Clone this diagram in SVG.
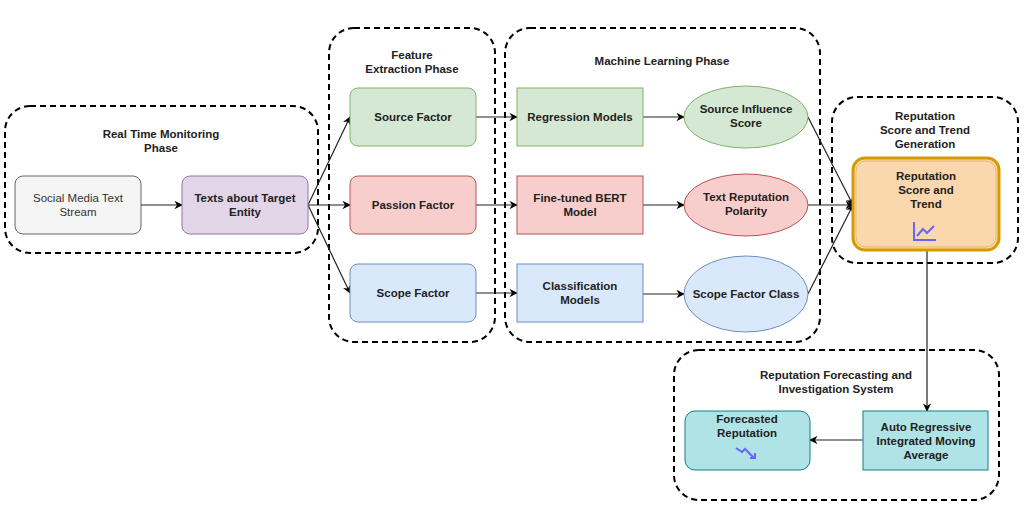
<svg xmlns="http://www.w3.org/2000/svg" width="1024" height="509" viewBox="0 0 1024 509">
<defs>
<marker id="ar" viewBox="0 0 10 10" refX="9" refY="5" markerWidth="7" markerHeight="7" orient="auto"><path d="M0,0 L10,5 L0,10 L3,5 z" fill="#000"/></marker>
<style>
text{font-family:"Liberation Sans",Arial,sans-serif;font-size:11.5px;font-weight:bold;text-anchor:middle;fill:#222}
.grp{fill:none;stroke:#000;stroke-width:2;stroke-dasharray:6 4}
.c{fill:none;stroke:#222;stroke-width:1.2;marker-end:url(#ar)}
</style>
</defs>
<rect width="1024" height="509" fill="#fff"/>
<g id="containers">
<rect class="grp" x="5" y="106" width="313" height="147" rx="25"/>
<rect class="grp" x="329" y="28" width="166" height="314" rx="25"/>
<rect class="grp" x="505" y="28" width="315" height="314" rx="25"/>
<rect class="grp" x="832" y="97" width="186" height="166" rx="25"/>
<rect class="grp" x="674" y="350" width="325" height="150" rx="25"/>
<text x="161" y="138">Real Time Monitoring</text><text x="161" y="152">Phase</text>
<text x="412" y="59">Feature</text><text x="412" y="73">Extraction Phase</text>
<text x="662" y="65">Machine Learning Phase</text>
<text x="925" y="120">Reputation</text><text x="925" y="134">Score and Trend</text><text x="925" y="148">Generation</text>
<text x="836" y="379">Reputation Forecasting and</text><text x="836" y="393">Investigation System</text>
</g>
<g id="connectors">
<line class="c" x1="141" y1="205" x2="182" y2="205"/>
<line class="c" x1="308" y1="205" x2="350" y2="117"/>
<line class="c" x1="308" y1="205" x2="350" y2="205"/>
<line class="c" x1="308" y1="205" x2="350" y2="293"/>
<line class="c" x1="476" y1="117" x2="517" y2="117"/>
<line class="c" x1="476" y1="205" x2="517" y2="205"/>
<line class="c" x1="476" y1="293" x2="517" y2="293"/>
<line class="c" x1="643" y1="117" x2="684" y2="117"/>
<line class="c" x1="643" y1="205" x2="684" y2="205"/>
<line class="c" x1="643" y1="294" x2="684" y2="294"/>
<line class="c" x1="808" y1="117" x2="853" y2="205"/>
<line class="c" x1="808" y1="205" x2="853" y2="205"/>
<line class="c" x1="808" y1="294" x2="853" y2="205"/>
<line class="c" x1="927" y1="250" x2="927" y2="411"/>
<line class="c" x1="863" y1="440" x2="810" y2="440"/>
</g>
<g id="social"><rect x="15" y="176" width="126" height="58" rx="8" fill="#f5f5f5" stroke="#666"/><text x="78" y="202" style="fill:#333;font-weight:normal">Social Media Text</text><text x="78" y="216" style="fill:#333;font-weight:normal">Stream</text></g>
<g id="texts"><rect x="182" y="176" width="126" height="58" rx="8" fill="#e1d5e7" stroke="#9673a6"/><text x="245" y="202">Texts about Target</text><text x="245" y="216">Entity</text></g>
<g id="source"><rect x="350" y="88" width="126" height="58" rx="8" fill="#d5e8d4" stroke="#82b366"/><text x="413" y="121">Source Factor</text></g>
<g id="passion"><rect x="350" y="176" width="126" height="58" rx="8" fill="#f8cecc" stroke="#b85450"/><text x="413" y="209">Passion Factor</text></g>
<g id="scope"><rect x="350" y="264" width="126" height="58" rx="8" fill="#dae8fc" stroke="#6c8ebf"/><text x="413" y="297">Scope Factor</text></g>
<g id="regression"><rect x="517" y="88" width="126" height="58" fill="#d5e8d4" stroke="#82b366"/><text x="580" y="121">Regression Models</text></g>
<g id="bert"><rect x="517" y="176" width="126" height="58" fill="#f8cecc" stroke="#b85450"/><text x="580" y="202">Fine-tuned BERT</text><text x="580" y="216">Model</text></g>
<g id="classif"><rect x="517" y="264" width="126" height="58" fill="#dae8fc" stroke="#6c8ebf"/><text x="580" y="290">Classification</text><text x="580" y="304">Models</text></g>
<g id="sis"><ellipse cx="746" cy="117" rx="62" ry="31" fill="#d5e8d4" stroke="#82b366"/><text x="746" y="113">Source Influence</text><text x="746" y="127">Score</text></g>
<g id="trp"><ellipse cx="746" cy="205" rx="62" ry="31" fill="#f8cecc" stroke="#b85450"/><text x="746" y="201">Text Reputation</text><text x="746" y="215">Polarity</text></g>
<g id="sfc"><ellipse cx="746" cy="294" rx="62" ry="38" fill="#dae8fc" stroke="#6c8ebf"/><text x="746" y="298">Scope Factor Class</text></g>
<g id="rep"><rect x="853" y="158" width="146" height="92" rx="12" fill="#fad7ac" stroke="#d79b00" stroke-width="3"/><rect x="856" y="161" width="140" height="86" rx="10" fill="none" stroke="#e8b870" stroke-width="1"/><text x="926" y="180">Reputation</text><text x="926" y="194">Score and</text><text x="926" y="208">Trend</text>
<path d="M914,222 V240 H936 M917,236 L923,229 L927,233 L934,226" fill="none" stroke="#6666ff" stroke-width="2"/></g>
<g id="arima"><rect x="863" y="411" width="125" height="59" fill="#b0e3e6" stroke="#0e8088"/><text x="926" y="431">Auto Regressive</text><text x="926" y="445">Integrated Moving</text><text x="926" y="459">Average</text></g>
<g id="forecast"><rect x="685" y="411" width="125" height="59" rx="10" fill="#b0e3e6" stroke="#0e8088"/><text x="747" y="423">Forecasted</text><text x="747" y="437">Reputation</text>
<path d="M736,448 L742,452 L745,449 L754,458 M750,458 H755 V453" fill="none" stroke="#6666ff" stroke-width="2"/></g>
</svg>
